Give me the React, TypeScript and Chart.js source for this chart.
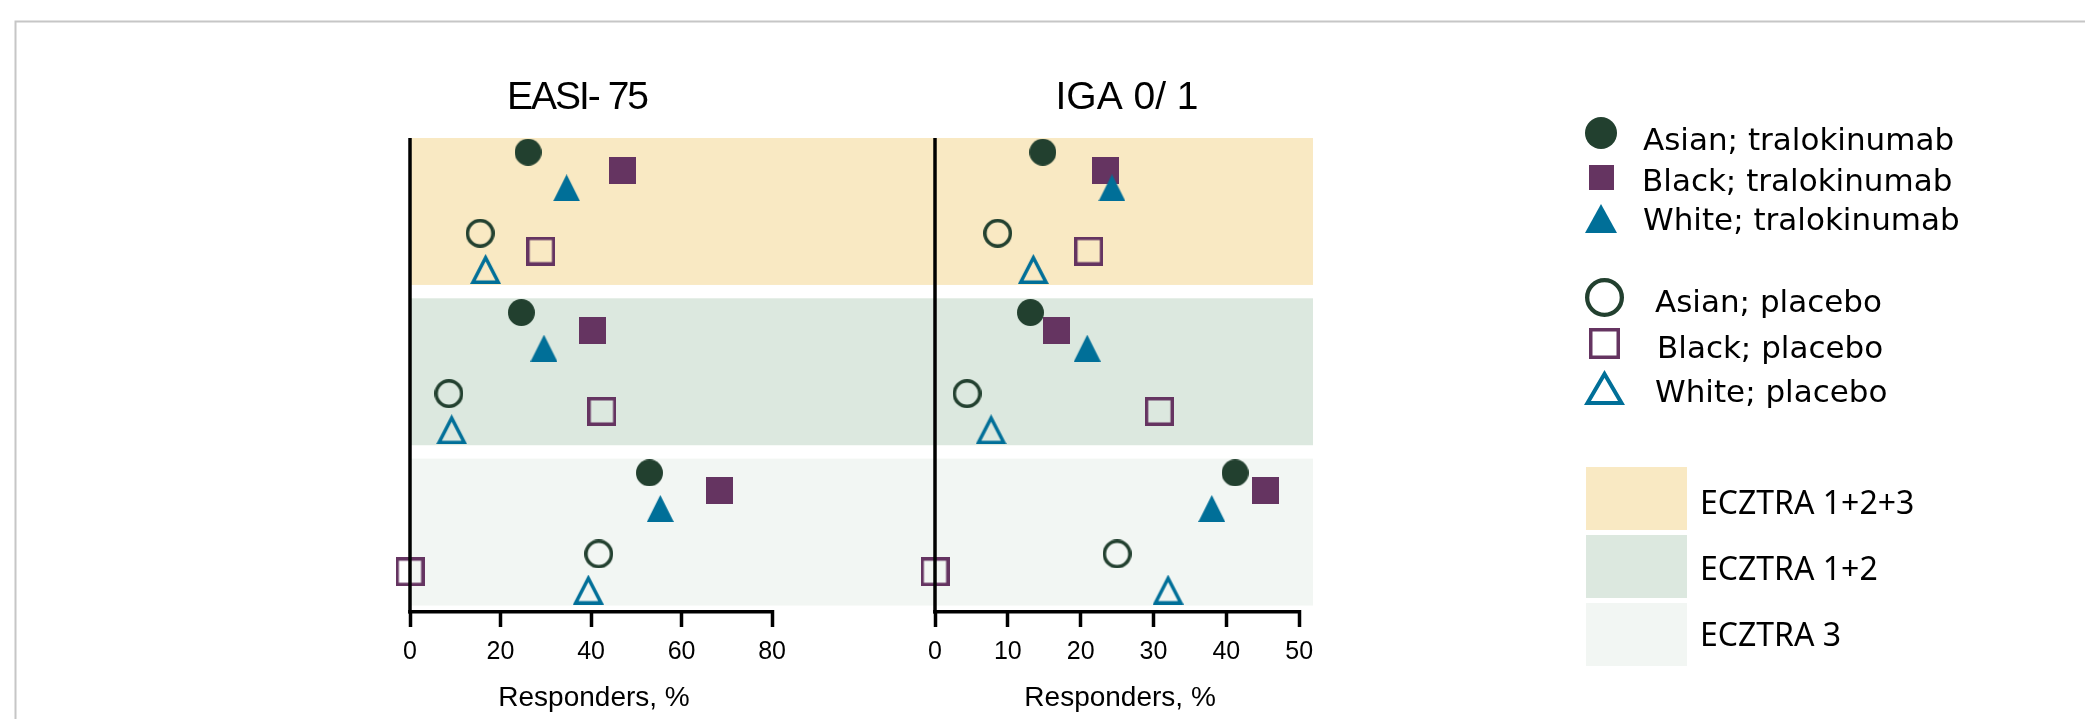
import React, { useEffect, useRef } from 'react';
import { Chart, registerables } from 'chart.js';

Chart.register(...registerables);

// ---------------- data ----------------
const trials = ['ECZTRA 1+2+3', 'ECZTRA 1+2', 'ECZTRA 3'];
const panelTitles = ['EASI- 75', 'IGA 0/ 1'];
const axisTitle = 'Responders, %';
const easiTicks = [0, 20, 40, 60, 80];
const igaTicks = [0, 10, 20, 30, 40, 50];

const easiAsianTralokinumab = [26.1, 24.6, 52.9];
const easiBlackTralokinumab = [46.9, 40.3, 68.4];
const easiWhiteTralokinumab = [34.6, 29.6, 55.3];
const easiAsianPlacebo = [15.5, 8.6, 41.7];
const easiBlackPlacebo = [28.9, 42.4, 0];
const easiWhitePlacebo = [16.7, 9.2, 39.4];

const igaAsianTralokinumab = [14.8, 13.1, 41.2];
const igaBlackTralokinumab = [23.4, 16.7, 45.4];
const igaWhiteTralokinumab = [24.3, 20.9, 38.0];
const igaAsianPlacebo = [8.6, 4.4, 25.0];
const igaBlackPlacebo = [21.1, 30.8, 0];
const igaWhitePlacebo = [13.5, 7.7, 32.0];

// ---------------- style ----------------
const GREEN = '#22402F';
const PURPLE = '#653461';
const BLUE = '#006F98';
const BAND_COLORS = ['#F9E9C3', '#DCE8DF', '#F2F6F3'];

const BAND_PERIOD = 9;
const BAND_HEIGHT = 8.25;
const Y_MAX = 26.5;
const ROW_POS = [0.8, 1.8, 2.8, 5.35, 6.35, 7.35];

type Shape = 'circle' | 'square' | 'triangle';

const seriesDefs: { label: string; easi: number[]; iga: number[]; shape: Shape; filled: boolean; color: string }[] = [
  { label: 'Asian; tralokinumab', easi: easiAsianTralokinumab, iga: igaAsianTralokinumab, shape: 'circle', filled: true, color: GREEN },
  { label: 'Black; tralokinumab', easi: easiBlackTralokinumab, iga: igaBlackTralokinumab, shape: 'square', filled: true, color: PURPLE },
  { label: 'White; tralokinumab', easi: easiWhiteTralokinumab, iga: igaWhiteTralokinumab, shape: 'triangle', filled: true, color: BLUE },
  { label: 'Asian; placebo', easi: easiAsianPlacebo, iga: igaAsianPlacebo, shape: 'circle', filled: false, color: GREEN },
  { label: 'Black; placebo', easi: easiBlackPlacebo, iga: igaBlackPlacebo, shape: 'square', filled: false, color: PURPLE },
  { label: 'White; placebo', easi: easiWhitePlacebo, iga: igaWhitePlacebo, shape: 'triangle', filled: false, color: BLUE },
];

function makeMarker(shape: Shape, filled: boolean, color: string, w: number, h: number, lw: number) {
  const c = document.createElement('canvas');
  c.width = w;
  c.height = h;
  const ctx = c.getContext('2d')!;
  ctx.fillStyle = color;
  ctx.strokeStyle = color;
  ctx.lineWidth = lw;
  ctx.lineJoin = 'miter';
  const d = filled ? 0 : lw / 2;
  ctx.beginPath();
  if (shape === 'circle') {
    ctx.ellipse(w / 2, h / 2, w / 2 - d, h / 2 - d, 0, 0, Math.PI * 2);
  } else if (shape === 'square') {
    ctx.rect(d, d, w - 2 * d, h - 2 * d);
  } else {
    const A = [w / 2, 0];
    const B = [w, h];
    const C = [0, h];
    const side = Math.hypot(w / 2, h);
    const s = (2 * side + w) / 2;
    const r = (w * h) / 2 / s;
    const I = [w / 2, h - r];
    const k = (r - d) / r;
    const P = [A, B, C].map(([x, y]) => [I[0] + (x - I[0]) * k, I[1] + (y - I[1]) * k]);
    ctx.moveTo(P[0][0], P[0][1]);
    ctx.lineTo(P[1][0], P[1][1]);
    ctx.lineTo(P[2][0], P[2][1]);
    ctx.closePath();
  }
  if (filled) ctx.fill();
  else ctx.stroke();
  return c;
}

const plotMarkerSize: Record<string, [number, number, number]> = {
  'circle-f': [27, 27, 0],
  'square-f': [27, 27, 0],
  'triangle-f': [27, 27, 0],
  'circle-o': [29, 29, 3.5],
  'square-o': [29, 29, 3.4],
  'triangle-o': [31, 30, 3.5],
};
const legendMarkerSize: Record<string, [number, number, number]> = {
  'circle-f': [32, 32, 0],
  'square-f': [25, 25, 0],
  'triangle-f': [32, 29, 0],
  'circle-o': [39, 39, 4.3],
  'square-o': [31, 31, 3.5],
  'triangle-o': [41, 35, 4],
};
const legendMarkerPos = [
  [1601, 133], [1601, 177], [1601, 218.5],
  [1604.5, 297.5], [1604.5, 343.5], [1604.5, 387.5],
];
const legendTextPos = [
  [1643, 150], [1642, 191], [1643, 230],
  [1655, 312], [1657, 358], [1655, 402],
];
const bandLegendTop = [467, 535, 603];
const bandLegendTextY = [514, 580, 646];
const TITLE_X = [577, 1127];

const SANS = "'Liberation Sans', Arial, sans-serif";
const LEGEND_FONT = "'DejaVu Sans', sans-serif";
const BAND_LEGEND_FONT = "'Noto Sans', sans-serif";

export default function App() {
  const ref = useRef<HTMLCanvasElement>(null);

  useEffect(() => {
    const canvas = ref.current!;
    const key = (s: { shape: Shape; filled: boolean }) => `${s.shape}-${s.filled ? 'f' : 'o'}`;
    const plotMarkers = seriesDefs.map((s) => {
      const [w, h, lw] = plotMarkerSize[key(s)];
      return makeMarker(s.shape, s.filled, s.color, w, h, lw);
    });
    const legendMarkers = seriesDefs.map((s) => {
      const [w, h, lw] = legendMarkerSize[key(s)];
      return makeMarker(s.shape, s.filled, s.color, w, h, lw);
    });

    const datasets: any[] = [];
    seriesDefs.forEach((s, si) => {
      ([['xL', s.easi], ['xR', s.iga]] as [string, number[]][]).forEach(([axis, vals]) => {
        datasets.push({
          label: s.label,
          xAxisID: axis,
          yAxisID: 'y',
          data: vals.map((v, b) => ({ x: v, y: b * BAND_PERIOD + ROW_POS[si] })),
          pointStyle: plotMarkers[si],
          pointRadius: 14,
          pointHoverRadius: 14,
          showLine: false,
          clip: false,
          order: 10 - si,
        });
      });
    });

    const xScale = (ticksArr: number[], max: number, weight: number) => ({
      type: 'linear',
      position: 'bottom',
      stack: 'panels',
      stackWeight: weight,
      min: 0,
      max,
      afterBuildTicks: (scale: any) => {
        scale.ticks = ticksArr.map((v) => ({ value: v }));
      },
      afterFit: (scale: any) => {
        scale.height = 109;
      },
      grid: { display: true, drawOnChartArea: false, drawTicks: true, tickLength: 17, tickWidth: 3.5, tickColor: '#000' },
      border: { display: false },
      ticks: { color: '#000', font: { family: SANS, size: 25 }, padding: 10, maxRotation: 0, autoSkip: false },
    });

    const decor = {
      id: 'decor',
      beforeDraw(chart: any) {
        const { ctx } = chart;
        ctx.save();
        ctx.fillStyle = '#fff';
        ctx.fillRect(0, 0, chart.width, chart.height);
        ctx.strokeStyle = '#C6C6C6';
        ctx.lineWidth = 2;
        ctx.beginPath();
        ctx.moveTo(15.5, chart.height);
        ctx.lineTo(15.5, 21.5);
        ctx.lineTo(chart.width, 21.5);
        ctx.stroke();
        ctx.restore();
      },
      beforeDatasetsDraw(chart: any) {
        const { ctx, chartArea: a } = chart;
        const y = chart.scales.y;
        ctx.save();
        trials.forEach((_, b) => {
          const top = y.getPixelForValue(b * BAND_PERIOD);
          const bot = y.getPixelForValue(b * BAND_PERIOD + BAND_HEIGHT);
          ctx.fillStyle = BAND_COLORS[b];
          ctx.fillRect(a.left, top, a.right - a.left, bot - top);
        });
        ctx.restore();
      },
      afterDatasetsDraw(chart: any) {
        const { ctx, chartArea: a } = chart;
        ctx.save();
        ctx.strokeStyle = '#000';
        ctx.lineWidth = 3.5;
        const yLine = a.bottom + 1.75;
        ([[chart.scales.xL, easiTicks], [chart.scales.xR, igaTicks]] as [any, number[]][]).forEach(([sc, t]) => {
          const x0 = sc.getPixelForValue(0);
          const x1 = sc.getPixelForValue(t[t.length - 1]);
          ctx.beginPath();
          ctx.moveTo(x0, a.top);
          ctx.lineTo(x0, a.bottom + 3.5);
          ctx.stroke();
          ctx.beginPath();
          ctx.moveTo(x0 - 1.75, yLine);
          ctx.lineTo(x1 + 1.75, yLine);
          ctx.stroke();
        });
        ctx.restore();
      },
      afterDraw(chart: any) {
        const { ctx } = chart;
        ctx.save();
        ctx.fillStyle = '#000';
        // panel titles
        ctx.textAlign = 'center';
        ctx.textBaseline = 'alphabetic';
        ctx.font = `39px ${SANS}`;
        panelTitles.forEach((t, i) => {
          (ctx as any).letterSpacing = i === 0 ? '-2px' : '0px';
          ctx.fillText(t, TITLE_X[i], 109);
        });
        (ctx as any).letterSpacing = '0px';
        // axis titles
        ctx.font = `28px ${SANS}`;
        ([[chart.scales.xL, easiTicks], [chart.scales.xR, igaTicks]] as [any, number[]][]).forEach(([sc, t]) => {
          const cx = (sc.getPixelForValue(t[0]) + sc.getPixelForValue(t[t.length - 1])) / 2 + 3;
          ctx.fillText(axisTitle, cx, 706);
        });
        // legend: markers
        legendMarkers.forEach((m, i) => {
          const [x, y] = legendMarkerPos[i];
          ctx.drawImage(m, x - m.width / 2, y - m.height / 2);
        });
        ctx.textAlign = 'left';
        ctx.font = `31px ${LEGEND_FONT}`;
        seriesDefs.forEach((s, i) => {
          const [x, y] = legendTextPos[i];
          ctx.fillText(s.label, x, y);
        });
        // legend: bands
        ctx.font = `32px ${BAND_LEGEND_FONT}`;
        trials.forEach((t, b) => {
          ctx.fillStyle = BAND_COLORS[b];
          ctx.fillRect(1586, bandLegendTop[b], 101, 63);
          ctx.fillStyle = '#000';
          ctx.fillText(t, 1700, bandLegendTextY[b]);
        });
        ctx.restore();
      },
    };

    const chart = new Chart(canvas, {
      type: 'scatter',
      data: { datasets },
      options: {
        responsive: false,
        animation: false,
        devicePixelRatio: 1,
        events: [],
        layout: { padding: { left: 410, right: 772, top: 138, bottom: 0 } },
        plugins: { legend: { display: false }, tooltip: { enabled: false } },
        scales: {
          xL: xScale(easiTicks, 116, 525) as any,
          xR: xScale(igaTicks, 51.9, 378) as any,
          y: { type: 'linear', min: 0, max: Y_MAX, reverse: true, display: false },
        },
      },
      plugins: [decor],
    });

    return () => chart.destroy();
  }, []);

  return (
    <div style={{ position: 'fixed', left: 0, top: 0, width: 2085, height: 719, background: '#fff' }}>
      <canvas ref={ref} width={2085} height={719} style={{ display: 'block', width: 2085, height: 719 }} />
    </div>
  );
}
